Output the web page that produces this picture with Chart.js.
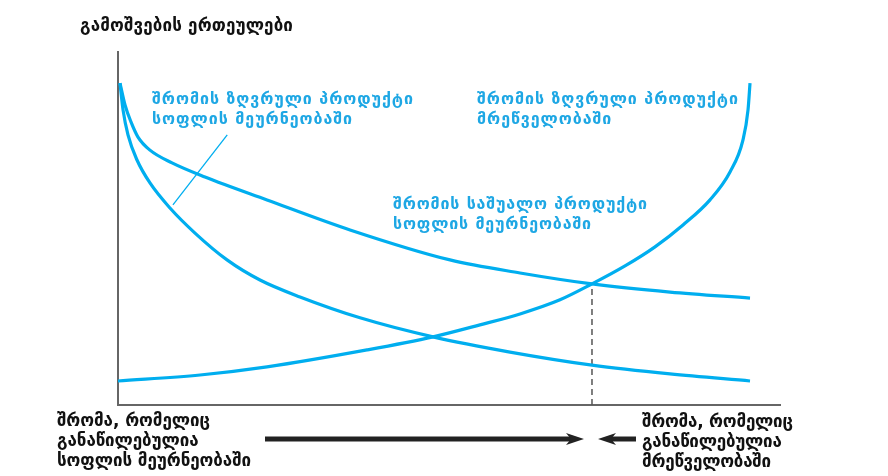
<!DOCTYPE html>
<html>
<head>
<meta charset="utf-8">
<script src="https://cdn.jsdelivr.net/npm/chart.js@4.4.1/dist/chart.umd.min.js"></script>
<style>
  html, body { margin: 0; padding: 0; background: #fff; }
  #wrap { width: 888px; height: 476px; }
</style>
</head>
<body>
<div id="wrap"><canvas id="chart"></canvas></div>
<script>
// labour share (x) and output units (y)
const mpAgX = [0.30, 0.76, 1.51, 2.87, 4.83, 7.85, 11.63, 16.47, 21.45, 27.49, 36.56, 47.58, 59.21, 71.60, 83.38, 95.47];
const mpAgY = [91.2, 83.6, 76.5, 69.4, 62.9, 55.8, 48.7, 41.1, 35.4, 30.6, 24.7, 19.3, 15.0, 11.3, 8.8, 6.8];

const apAgX = [0.30, 1.06, 1.96, 3.02, 4.83, 8.16, 13.14, 22.51, 35.05, 50.15, 60.73, 71.60, 83.38, 95.47];
const apAgY = [91.2, 85.0, 80.2, 75.9, 72.2, 68.6, 64.6, 58.1, 49.6, 41.1, 37.4, 34.3, 32.0, 30.3];

const mpMfX = [0, 12.39, 22.51, 37.61, 47.58, 54.68, 60.73, 66.77, 71.60, 76.59, 81.12, 85.35, 89.43, 92.45, 94.41, 95.17, 95.47];
const mpMfY = [6.8, 8.5, 10.8, 15.6, 19.3, 22.7, 25.8, 29.8, 34.3, 39.4, 44.8, 51.0, 58.1, 66.0, 75.1, 83.6, 91.2];

const equilX = [71.6, 71.6];
const equilY = [0, 34.3];

const yTitle = 'გამოშვების ერთეულები';
const mpAgLabel = ['შრომის ზღვრული პროდუქტი', 'სოფლის მეურნეობაში'];
const mpMfLabel = ['შრომის ზღვრული პროდუქტი', 'მრეწველობაში'];
const apAgLabel = ['შრომის საშუალო პროდუქტი', 'სოფლის მეურნეობაში'];
const leftNote = ['შრომა, რომელიც', 'განაწილებულია', 'სოფლის მეურნეობაში'];
const rightNote = ['შრომა, რომელიც', 'განაწილებულია', 'მრეწველობაში'];

const BLUE = '#00aeef';
const TEXT_BLUE = '#1ea7e4';

const toPts = (xs, ys) => xs.map((x, i) => ({ x: x, y: ys[i] }));

// draw lines of text stretched with letter spacing to a target width
function drawBlock(ctx, lines, x, y, lineH, width, font, color) {
  ctx.save();
  ctx.font = font;
  ctx.fillStyle = color;
  ctx.textBaseline = 'middle';
  ctx.textAlign = 'left';
  const first = lines[0];
  const w = ctx.measureText(first).width;
  const sp = (width - w) / (first.length - 1);
  ctx.letterSpacing = sp.toFixed(2) + 'px';
  lines.forEach((t, i) => ctx.fillText(t, x, y + i * lineH));
  ctx.restore();
}

function arrow(ctx, x1, x2, y) {
  const dir = Math.sign(x2 - x1);
  ctx.save();
  ctx.strokeStyle = '#222';
  ctx.fillStyle = '#222';
  ctx.lineWidth = 5;
  ctx.beginPath();
  ctx.moveTo(x1, y);
  ctx.lineTo(x2 - dir * 10, y);
  ctx.stroke();
  ctx.beginPath();
  ctx.moveTo(x2, y);
  ctx.lineTo(x2 - dir * 18, y - 6);
  ctx.lineTo(x2 - dir * 13, y);
  ctx.lineTo(x2 - dir * 18, y + 6);
  ctx.closePath();
  ctx.fill();
  ctx.restore();
}

const notes = {
  id: 'notes',
  afterDraw(chart) {
    const { ctx, scales: { x, y } } = chart;
    const bold = 'bold 17px "DejaVu Sans"';
    const blue = 'bold 16px "DejaVu Sans"';

    drawBlock(ctx, [yTitle], 80, 27, 20, 213, bold, '#111');

    drawBlock(ctx, mpAgLabel, 152, 100, 20, 261, blue, TEXT_BLUE);
    drawBlock(ctx, mpMfLabel, 477, 100, 20, 261, blue, TEXT_BLUE);
    drawBlock(ctx, apAgLabel, 393, 205, 20, 254, blue, TEXT_BLUE);

    // leader line from label to the marginal product curve
    ctx.save();
    ctx.strokeStyle = BLUE;
    ctx.lineWidth = 1.3;
    ctx.beginPath();
    ctx.moveTo(x.getPixelForValue(16.5), y.getPixelForValue(76.5));
    ctx.lineTo(x.getPixelForValue(8.3), y.getPixelForValue(56.7));
    ctx.stroke();
    ctx.restore();

    drawBlock(ctx, leftNote, 57, 422, 20, 153, bold, '#111');
    drawBlock(ctx, rightNote, 642, 423, 20, 151, bold, '#111');

    arrow(ctx, 265, 584, 439);
    arrow(ctx, 636, 598, 439);
  }
};

const lineDs = (data) => ({
  data: data,
  showLine: true,
  borderColor: BLUE,
  borderWidth: 3.2,
  pointRadius: 0,
  cubicInterpolationMode: 'monotone',
  clip: false
});

new Chart(document.getElementById('chart'), {
  type: 'scatter',
  data: {
    datasets: [
      lineDs(toPts(mpAgX, mpAgY)),
      lineDs(toPts(apAgX, apAgY)),
      lineDs(toPts(mpMfX, mpMfY)),
      {
        data: toPts(equilX, equilY),
        showLine: true,
        borderColor: '#555',
        borderWidth: 1.5,
        borderDash: [6, 4],
        pointRadius: 0
      }
    ]
  },
  options: {
    responsive: true,
    maintainAspectRatio: false,
    animation: false,
    layout: { padding: { left: 118, right: 108, top: 52, bottom: 71 } },
    scales: {
      x: {
        type: 'linear', min: 0, max: 100,
        grid: { display: false, drawTicks: false },
        ticks: { display: false },
        border: { display: true, color: '#666', width: 2 }
      },
      y: {
        type: 'linear', min: 0, max: 100,
        grid: { display: false, drawTicks: false },
        ticks: { display: false },
        border: { display: true, color: '#666', width: 2 }
      }
    },
    plugins: {
      legend: { display: false },
      tooltip: { enabled: false }
    }
  },
  plugins: [notes]
});
</script>
</body>
</html>
